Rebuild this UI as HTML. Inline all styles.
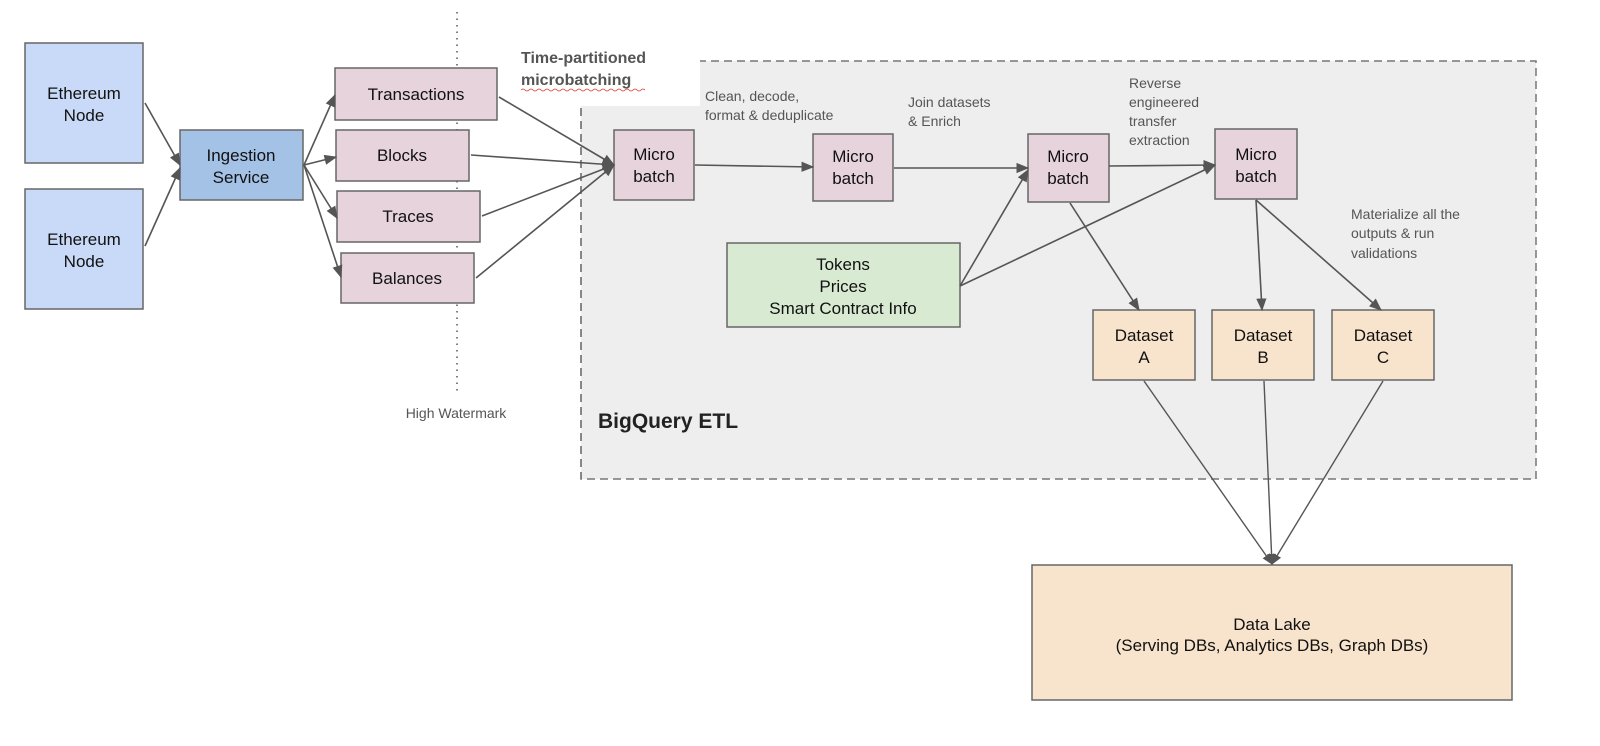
<!DOCTYPE html>
<html><head><meta charset="utf-8"><style>
html,body{margin:0;padding:0;background:#fff;width:1600px;height:746px;overflow:hidden}
svg text{font-family:"Liberation Sans",Arial,sans-serif}
</style></head><body>
<svg width="1600" height="746" viewBox="0 0 1600 746" xmlns="http://www.w3.org/2000/svg">
<defs>
<marker id="a" viewBox="0 0 10 10" refX="9" refY="5" markerWidth="8" markerHeight="8" orient="auto" markerUnits="strokeWidth"><path d="M0,1 L10,5 L0,9 z" fill="#555"/></marker>
<marker id="b" viewBox="0 0 10 10" refX="9" refY="5" markerWidth="8" markerHeight="8" orient="auto" markerUnits="strokeWidth"><path d="M0,1 L10,5 L0,9 z" fill="#555"/></marker>
</defs>
<!-- BigQuery area -->
<rect x="581" y="61" width="955" height="418" fill="#eeeeee" stroke="#777" stroke-width="1.5" stroke-dasharray="8,5"/>
<rect x="505" y="40" width="195" height="66" fill="#fff"/>
<line x1="581" y1="108" x2="581" y2="479" stroke="#777" stroke-width="1.5" stroke-dasharray="8,5"/>
<text x="598" y="428" font-size="21" font-weight="bold" fill="#222">BigQuery ETL</text>
<!-- watermark -->
<line x1="457" y1="12" x2="457" y2="394" stroke="#555" stroke-width="1.5" stroke-dasharray="1.5,5"/>
<text x="456" y="418" font-size="14" fill="#555" text-anchor="middle">High Watermark</text>
<text x="521" y="63" font-size="16" font-weight="bold" fill="#555">Time-partitioned</text>
<text x="521" y="85" font-size="16" font-weight="bold" fill="#555">microbatching</text>
<path d="M521 90 q2 -2 4 0 t4 0 t4 0 t4 0 t4 0 t4 0 t4 0 t4 0 t4 0 t4 0 t4 0 t4 0 t4 0 t4 0 t4 0 t4 0 t4 0 t4 0 t4 0 t4 0 t4 0 t4 0 t4 0 t4 0 t4 0 t4 0 t4 0 t4 0 t4 0 t4 0 t4 0" fill="none" stroke="#d33" stroke-width="0.8"/>
<!-- nodes -->
<g stroke="#666" stroke-width="1.5" font-size="17">
<rect x="25" y="43" width="118" height="120" fill="#c9daf8"/>
<rect x="25" y="189" width="118" height="120" fill="#c9daf8"/>
<rect x="180" y="130" width="123" height="70" fill="#a4c2e6"/>
<rect x="335" y="68" width="162" height="52" fill="#e6d3dc"/>
<rect x="336" y="130" width="133" height="51" fill="#e6d3dc"/>
<rect x="337" y="191" width="143" height="51" fill="#e6d3dc"/>
<rect x="341" y="253" width="133" height="50" fill="#e6d3dc"/>
<rect x="614" y="130" width="80" height="70" fill="#e6d3dc"/>
<rect x="813" y="134" width="80" height="67" fill="#e6d3dc"/>
<rect x="1028" y="134" width="81" height="68" fill="#e6d3dc"/>
<rect x="1215" y="129" width="82" height="70" fill="#e6d3dc"/>
<rect x="727" y="243" width="233" height="84" fill="#d9ead3"/>
<rect x="1093" y="310" width="102" height="70" fill="#f8e4cd"/>
<rect x="1212" y="310" width="102" height="70" fill="#f8e4cd"/>
<rect x="1332" y="310" width="102" height="70" fill="#f8e4cd"/>
<rect x="1032" y="565" width="480" height="135" fill="#f8e4cd"/>
</g>
<g font-size="17" fill="#111" text-anchor="middle">
<text x="84" y="99">Ethereum</text><text x="84" y="121">Node</text>
<text x="84" y="245">Ethereum</text><text x="84" y="267">Node</text>
<text x="241" y="161">Ingestion</text><text x="241" y="183">Service</text>
<text x="416" y="100">Transactions</text>
<text x="402" y="161">Blocks</text>
<text x="408" y="222">Traces</text>
<text x="407" y="284">Balances</text>
<text x="654" y="160">Micro</text><text x="654" y="182">batch</text>
<text x="853" y="162">Micro</text><text x="853" y="184">batch</text>
<text x="1068" y="162">Micro</text><text x="1068" y="184">batch</text>
<text x="1256" y="160">Micro</text><text x="1256" y="182">batch</text>
<text x="843" y="270">Tokens</text><text x="843" y="292">Prices</text><text x="843" y="314">Smart Contract Info</text>
<text x="1144" y="341">Dataset</text><text x="1144" y="363">A</text>
<text x="1263" y="341">Dataset</text><text x="1263" y="363">B</text>
<text x="1383" y="341">Dataset</text><text x="1383" y="363">C</text>
<text x="1272" y="630">Data Lake</text>
<text x="1272" y="651">(Serving DBs, Analytics DBs, Graph DBs)</text>
</g>
<g font-size="14" fill="#555">
<text x="705" y="101">Clean, decode,</text><text x="705" y="120">format &amp; deduplicate</text>
<text x="908" y="107">Join datasets</text><text x="908" y="126">&amp; Enrich</text>
<text x="1129" y="88">Reverse</text><text x="1129" y="107">engineered</text><text x="1129" y="126">transfer</text><text x="1129" y="145">extraction</text>
<text x="1351" y="219">Materialize all the</text><text x="1351" y="238">outputs &amp; run</text><text x="1351" y="258">validations</text>
</g>
<!-- arrows -->
<g stroke="#555" stroke-width="1.6" fill="none" marker-end="url(#a)">
<line x1="145" y1="103" x2="180" y2="165"/>
<line x1="145" y1="246" x2="180" y2="168"/>
<line x1="304" y1="165" x2="335" y2="95"/>
<line x1="304" y1="165" x2="336" y2="157"/>
<line x1="304" y1="165" x2="337" y2="218"/>
<line x1="304" y1="165" x2="341" y2="277"/>
<line x1="499" y1="97" x2="614" y2="165"/>
<line x1="471" y1="155" x2="614" y2="165"/>
<line x1="482" y1="216" x2="614" y2="165"/>
<line x1="476" y1="278" x2="614" y2="165"/>
<line x1="695" y1="165" x2="813" y2="167"/>
<line x1="894" y1="168" x2="1028" y2="168"/>
<line x1="960" y1="286" x2="1028" y2="170"/>
<line x1="960" y1="286" x2="1215" y2="165"/>
<line x1="1109" y1="166" x2="1215" y2="165"/>
<line x1="1070" y1="203" x2="1139" y2="310"/>
<line x1="1256" y1="200" x2="1262" y2="310"/>
<line x1="1256" y1="200" x2="1381" y2="310"/>
</g>
<g stroke="#555" stroke-width="1.4" fill="none" marker-end="url(#b)">
<line x1="1144" y1="381" x2="1272" y2="564"/>
<line x1="1264" y1="381" x2="1272" y2="564"/>
<line x1="1383" y1="381" x2="1272" y2="564"/>
</g>
</svg>
</body></html>
